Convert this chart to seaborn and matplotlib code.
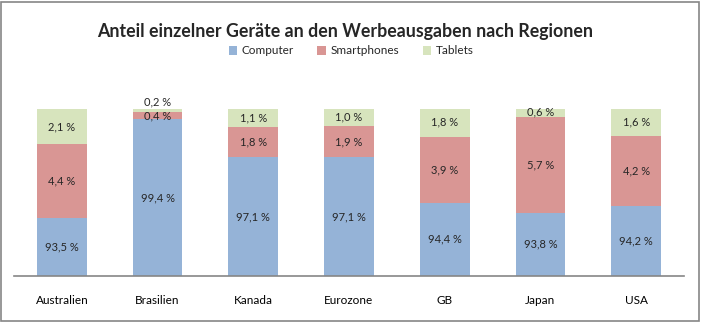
import matplotlib
matplotlib.use("Agg")
import matplotlib.pyplot as plt
import seaborn as sns
import pandas as pd
from matplotlib.patches import Rectangle, Patch

regions = ["Australien", "Brasilien", "Kanada", "Eurozone", "GB", "Japan", "USA"]
computer = [93.5, 99.4, 97.1, 97.1, 94.4, 93.8, 94.2]
smartphones = [4.4, 0.4, 1.8, 1.9, 3.9, 5.7, 4.2]
tablets = [2.1, 0.2, 1.1, 1.0, 1.8, 0.6, 1.6]
series_names = ["Computer", "Smartphones", "Tablets"]
colors = ["#95B3D7", "#D99694", "#D7E4BD"]

sns.set_theme(style="white")
plt.rcParams["font.family"] = ["Lato", "DejaVu Sans"]

df = pd.DataFrame({"region": regions, "Computer": computer,
                   "Smartphones": smartphones, "Tablets": tablets})
df["lvl1"] = df["Computer"]
df["lvl2"] = df["lvl1"] + df["Smartphones"]
df["lvl3"] = df["lvl2"] + df["Tablets"]

W, H = 701, 322
fig = plt.figure(figsize=(W / 100, H / 100), dpi=100)
fig.patch.set_facecolor("white")
ax = fig.add_axes([14 / W, (H - 276) / H, 670 / W, 167 / H])

# draw cumulative totals back to front so each segment shows as a stacked bar
for col, c in zip(["lvl3", "lvl2", "lvl1"], colors[::-1]):
    sns.barplot(data=df, x="region", y=col, color=c, width=0.52,
                saturation=1, linewidth=0, edgecolor="none", ax=ax, zorder=2)

ax.set_ylim(90, 100)
ax.set_xlim(-0.5, len(regions) - 0.5)
ax.set_xlabel("")
ax.set_ylabel("")
ax.set_yticks([])
ax.tick_params(axis="x", length=0, pad=14, labelsize=8.5, colors="black")
for s in ["top", "left", "right"]:
    ax.spines[s].set_visible(False)
ax.spines["bottom"].set_color("#868686")
ax.spines["bottom"].set_linewidth(1.2)
ax.spines["bottom"].set_zorder(3)


def fmt(v):
    return f"{v:.1f}".replace(".", ",") + " %"


for i in range(len(regions)):
    c, s, t = computer[i], smartphones[i], tablets[i]
    ax.text(i, (90 + c) / 2, fmt(c), ha="center", va="center", fontsize=8, zorder=4)
    ax.text(i, c + s / 2, fmt(s), ha="center", va="center", fontsize=8, zorder=4)
    if t < 0.3:
        ax.text(i, c + s + t + 0.1, fmt(t), ha="center", va="bottom", fontsize=8, zorder=4)
    else:
        ax.text(i, c + s + t / 2, fmt(t), ha="center", va="center", fontsize=8, zorder=4)

fig.text(345 / W, 1 - 31 / H, "Anteil einzelner Geräte an den Werbeausgaben nach Regionen",
         ha="center", va="center", fontsize=12.8, fontweight="bold")

handles = [Patch(facecolor=c, edgecolor="none") for c in colors]
fig.legend(handles, series_names, loc="center", bbox_to_anchor=(351 / W, 1 - 51 / H),
           ncol=3, frameon=False, fontsize=8.5, handlelength=0.7, handleheight=0.7,
           handletextpad=0.4, columnspacing=2.0, borderaxespad=0)

fig.add_artist(Rectangle((1 / W, 1 / H), (W - 3) / W, (H - 3) / H,
                         transform=fig.transFigure, fill=False,
                         edgecolor="#868686", linewidth=1.2))

fig.savefig("out.png", dpi=100)
